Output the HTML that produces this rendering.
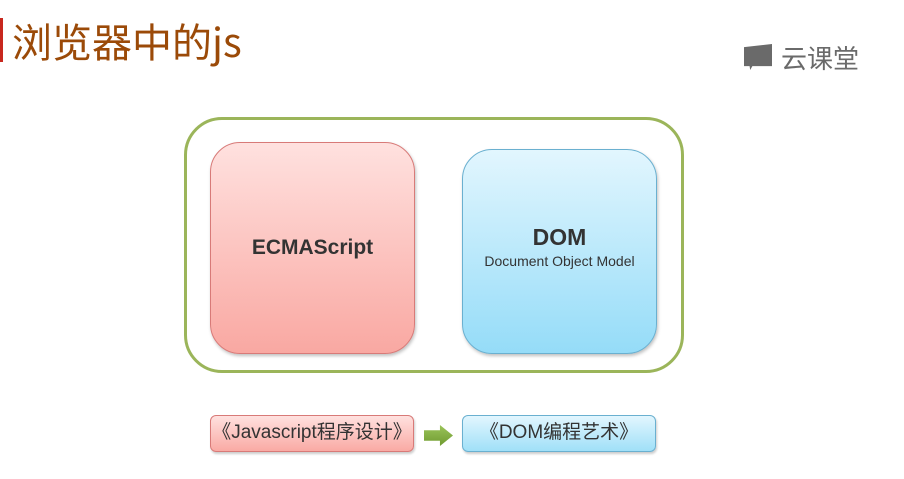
<!DOCTYPE html>
<html><head><meta charset="utf-8"><style>
body{margin:0;width:904px;height:479px;background:#fff;position:relative;overflow:hidden;font-family:"Liberation Sans","Noto Sans CJK SC",sans-serif}
.a{position:absolute;box-sizing:border-box}
</style></head><body>
<div class="a" style="left:0;top:18px;width:3px;height:44px;background:#c8281e"></div>
<div class="a" style="left:12px;top:15px;font-size:40px;color:#9b4a08;font-family:'Noto Sans CJK SC',sans-serif;line-height:50px">浏览器中的js</div>
<div class="a" style="left:744px;top:44px;width:28px;height:26px;background:#6a6a6a;clip-path:polygon(0 12%,100% 0,100% 85%,30% 85%,22% 100%,20% 85%,0 85%)"></div>
<div class="a" style="left:781px;top:40px;font-size:26px;color:#6a6a6a;font-family:'Noto Sans CJK SC',sans-serif;line-height:36px">云课堂</div>
<div class="a" style="left:184px;top:117px;width:500px;height:256px;border:3px solid #9bb55a;border-radius:38px"></div>
<div class="a" style="left:210px;top:142px;width:205px;height:212px;border:1.5px solid #d87a78;border-radius:30px;background:linear-gradient(#ffe1df,#f9a8a2);box-shadow:1px 2px 3px rgba(0,0,0,.25)"></div>
<div class="a" style="left:210px;top:236px;width:205px;text-align:center;font-weight:bold;font-size:21px;color:#333">ECMAScript</div>
<div class="a" style="left:462px;top:149px;width:195px;height:205px;border:1.5px solid #6ab0d0;border-radius:30px;background:linear-gradient(#e2f6fe,#95dcf8);box-shadow:1px 2px 3px rgba(0,0,0,.25)"></div>
<div class="a" style="left:462px;top:224px;width:195px;text-align:center;font-weight:bold;font-size:23px;color:#333">DOM</div>
<div class="a" style="left:462px;top:253px;width:195px;text-align:center;font-size:14px;color:#333">Document Object Model</div>
<div class="a" style="left:210px;top:415px;width:204px;height:37px;border:1.5px solid #d87a78;border-radius:6px;background:linear-gradient(#ffe1df,#f9aaa4);box-shadow:1px 2px 2px rgba(0,0,0,.2);text-align:center;line-height:34px;font-size:19px;color:#333">《Javascript程序设计》</div>
<div class="a" style="left:424px;top:425px;width:29px;height:21px;background:linear-gradient(#9bc45a,#6f9a30);clip-path:polygon(0 25%,55% 25%,55% 0,100% 50%,55% 100%,55% 75%,0 75%)"></div>
<div class="a" style="left:462px;top:415px;width:194px;height:37px;border:1.5px solid #6ab0d0;border-radius:6px;background:linear-gradient(#e2f6fe,#a0e0f8);box-shadow:1px 2px 2px rgba(0,0,0,.2);text-align:center;line-height:34px;font-size:19px;color:#333">《DOM编程艺术》</div>
</body></html>
